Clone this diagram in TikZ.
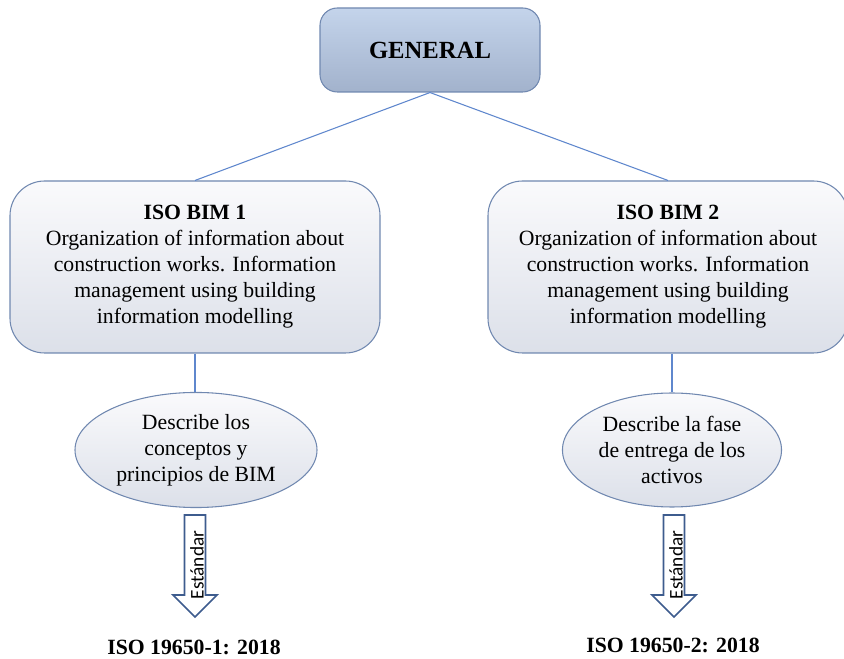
\documentclass[tikz,border=0pt]{standalone}
\usepackage{fontspec}
\setmainfont{Liberation Serif}
\newfontfamily\arrowfont{Carlito}
\usetikzlibrary{shapes.geometric}
\definecolor{LineBlue}{RGB}{95,135,205}
\definecolor{BoxEdge}{RGB}{112,136,176}
\definecolor{GenTop}{RGB}{196,212,235}
\definecolor{GenBottom}{RGB}{162,178,204}
\definecolor{BoxTop}{RGB}{250,250,252}
\definecolor{BoxBottom}{RGB}{220,224,233}
\definecolor{ArrowEdge}{RGB}{62,92,142}
\tikzset{
  general/.style={draw=BoxEdge,line width=0.8pt,rounded corners=13pt,
    top color=GenTop,bottom color=GenBottom,minimum width=165pt,
    minimum height=63pt,font=\fontsize{18.5}{22}\selectfont\bfseries},
  isobox/.style={draw=BoxEdge,line width=0.8pt,rounded corners=26pt,
    top color=BoxTop,bottom color=BoxBottom,minimum height=129pt,
    align=center,font=\fontsize{16.3}{19.5}\selectfont},
  descr/.style={ellipse,draw=BoxEdge,line width=0.8pt,top color=BoxTop,
    bottom color=BoxBottom,align=center,inner sep=0pt,
    font=\fontsize{16.3}{19.5}\selectfont},
  stdlabel/.style={font=\fontsize{16.3}{19}\selectfont\bfseries},
  blockarrow/.style={draw=ArrowEdge,line width=1.3pt,fill=white,
    line join=miter},
  arrowtext/.style={rotate=90,font=\arrowfont\fontsize{14.5}{16}\selectfont},
  link/.style={LineBlue,line width=0.8pt}
}

\begin{document}
\begin{tikzpicture}[x=0.75pt,y=-0.75pt]
  \useasboundingbox (0,0) rectangle (844,659);
  \node[general] (gen) at (430,50) {GENERAL};
  \node[isobox,minimum width=277.5pt] (bim1) at (195,267)
    {\textbf{ISO BIM 1}\\Organization of information about\\
     construction works. Information\\management using building\\
     information modelling};
  \node[isobox,minimum width=270pt] (bim2) at (668,267)
    {\textbf{ISO BIM 2}\\Organization of information about\\
     construction works. Information\\management using building\\
     information modelling};
  \node[descr,minimum width=181.5pt,minimum height=86.3pt] (d1) at (196,450)
    {Describe los\\conceptos y\\principios de BIM};
  \node[descr,minimum width=164.3pt,minimum height=85.5pt] (d2) at (672,450)
    {Describe la fase\\de entrega de los\\activos};
  \node[stdlabel] (iso1) at (194,647) {ISO 19650-1: 2018};
  \node[stdlabel] (iso2) at (673,645) {ISO 19650-2: 2018};
  \draw[link] (gen.south) -- (bim1.north);
  \draw[link] (gen.south) -- (bim2.north);
  \draw[link] (bim1.south) -- (bim1.south |- d1.north);
  \draw[link] (bim2.south -| d2.north) -- (d2.north);
  % block arrows down to the standards
  \coordinate (a1) at (195,515);
  \coordinate (a2) at (674,515);
  \foreach \a in {a1,a2}
    \draw[blockarrow] (\a) ++(-10.5,0) -- ++(21,0) -- ++(0,80) -- ++(11.5,0)
      -- ++(-22,22) -- ++(-22,-22) -- ++(11.5,0) -- cycle;
  \node[arrowtext] (t1) at (197,565) {Estándar};
  \node[arrowtext] (t2) at (676,565) {Estándar};
\end{tikzpicture}
\end{document}
